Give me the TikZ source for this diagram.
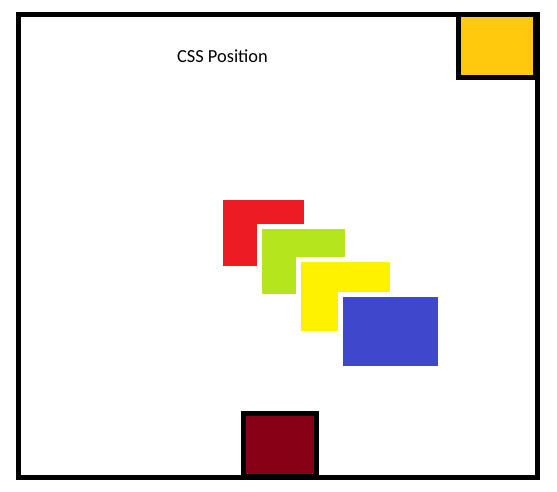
\documentclass[tikz,border=0pt]{standalone}
\usepackage{fontspec}
\setmainfont{Carlito}
\definecolor{psred}{HTML}{ED1C24}
\definecolor{psgreen}{HTML}{B5E61D}
\definecolor{psyellow}{HTML}{FFF200}
\definecolor{psblue}{HTML}{3F48CC}
\definecolor{psorange}{HTML}{FFC90E}
\definecolor{psmaroon}{HTML}{880015}

\begin{document}
\begin{tikzpicture}[x=1pt, y=-1pt,
    frame/.style={draw=black, line width=5pt},
    pinbox/.style={draw=black, line width=5pt, fill=#1},
    layerbox/.style={draw=white, line width=5pt, fill=#1}]
  \useasboundingbox (0,0) rectangle (557,491);

  % container
  \draw[frame, fill=white] (18.5,14.5) rectangle (537.5,477.5);
  \node[font=\fontsize{18.4}{22}\selectfont, anchor=base] (title) at (222.5,62) {CSS Position};

  % relative / stacked boxes
  \draw[layerbox=psred] (220.5,197.5) rectangle (306.5,268.5);
  \draw[layerbox=psgreen] (259.5,226.5) rectangle (347.5,296.5);
  \draw[layerbox=psyellow] (298.5,259.5) rectangle (392.5,333.5);
  \draw[layerbox=psblue] (340.5,294.5) rectangle (440.5,368.5);

  % absolute boxes
  \draw[pinbox=psorange] (458.5,14.5) rectangle (535.5,77.5);
  \draw[pinbox=psmaroon] (243.5,413.5) rectangle (316.5,476);
\end{tikzpicture}
\end{document}
